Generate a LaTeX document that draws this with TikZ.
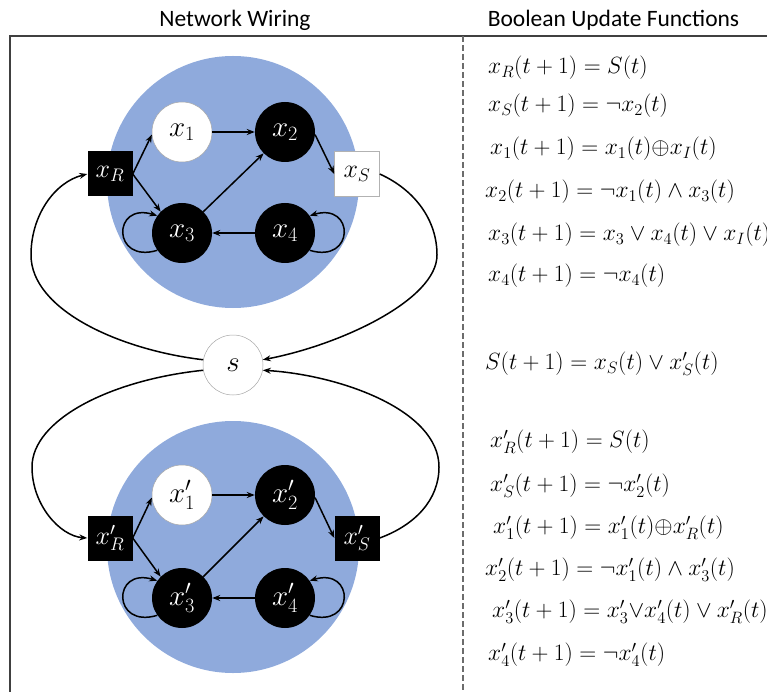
\RequirePackage{fix-cm}
\documentclass[tikz,border=0pt]{standalone}
\usepackage[no-math]{fontspec}
\newfontfamily\headfont{Carlito}
\usetikzlibrary{arrows.meta}

\definecolor{cellblue}{HTML}{8FAADC}
\definecolor{framegray}{HTML}{404040}

\tikzset{
  wire/.style={line width=1.5pt, -{Stealth[length=8pt,width=6pt]}},
  cell/.style={circle, fill=cellblue, minimum size=252pt, inner sep=0pt},
  onnode/.style={circle, fill=black, text=white, minimum size=60pt, inner sep=0pt,
    font=\fontsize{29}{31}\selectfont},
  offnode/.style={circle, fill=white, draw=gray!70, line width=0.5pt, text=black,
    minimum size=60pt, inner sep=0pt, font=\fontsize{29}{31}\selectfont},
  onport/.style={rectangle, fill=black, text=white, minimum size=45pt, inner sep=0pt,
    font=\fontsize{26}{28}\selectfont},
  offport/.style={rectangle, fill=white, draw=gray!60, line width=0.5pt, text=black,
    minimum size=45pt, inner sep=0pt, font=\fontsize{26}{28}\selectfont},
  eqn/.style={anchor=west, inner sep=0pt, font=\fontsize{23.5}{25}\selectfont},
  head/.style={anchor=base, inner sep=0pt, font=\headfont\fontsize{23.5}{26}\selectfont},
  rule/.style={line width=1.5pt, draw=framegray},
  divider/.style={line width=1.2pt, draw=gray!85!black, dash pattern=on 6pt off 3pt},
}

\begin{document}
\begin{tikzpicture}[x=1pt,y=-1pt]
\useasboundingbox (0,0) rectangle (767,692);
\clip (0,0) rectangle (767,692);

% headings and frame
\node[head] (hwire) at (235,27) {Network Wiring};
\node[head] (hfun) at (613.5,27) {Boolean Update Functions};
\coordinate (tl) at (10,36);
\coordinate (tr) at (767,36);
\coordinate (bl) at (10,692);
\coordinate (dt) at (463,36);
\coordinate (db) at (463,692);
\draw[rule] (tr) -- (tl) -- (bl);
\draw[divider] (dt) -- (db);

% cells
\node[cell] (cellA) at (233,182) {};
\node[cell] (cellB) at (233,547) {};

% upper network
\node[offnode] (x1) at (182,132) {$x_1$};
\node[onnode]  (x2) at (285,132) {$x_2$};
\node[onnode]  (x3) at (182,233) {$x_3$};
\node[onnode]  (x4) at (285,233) {$x_4$};
\node[onport]  (xR) at (110,174) {$x_R$};
\node[offport] (xS) at (357,174) {$x_S$};

% lower network
\node[offnode] (y1) at (182,495) {$x_1'$};
\node[onnode]  (y2) at (285,495) {$x_2'$};
\node[onnode]  (y3) at (182,598) {$x_3'$};
\node[onnode]  (y4) at (285,598) {$x_4'$};
\node[onport]  (yR) at (110,538) {$x_R'$};
\node[onport]  (yS) at (357,538) {$x_S'$};

% shared signal
\node[offnode] (s) at (233,365) {$s$};

% upper wiring
\draw[wire] (xR.east) -- (x1.185);
\draw[wire] (xR.east) -- (x3.135);
\draw[wire] (x1) -- (x2);
\draw[wire] (x3.45) -- (x2.225);
\draw[wire] (x2.-5) -- (xS.west);
\draw[wire] (x4) -- (x3);
\draw[wire] (x3.215) .. controls (112,264) and (112,202) .. (x3.145);
\draw[wire] (x4.-35) .. controls (355,264) and (355,202) .. (x4.35);

% lower wiring
\draw[wire] (yR.east) -- (y1.185);
\draw[wire] (yR.east) -- (y3.135);
\draw[wire] (y1) -- (y2);
\draw[wire] (y3.45) -- (y2.225);
\draw[wire] (y2.-5) -- (yS.west);
\draw[wire] (y4) -- (y3);
\draw[wire] (y3.215) .. controls (112,629) and (112,567) .. (y3.145);
\draw[wire] (y4.-35) .. controls (355,629) and (355,567) .. (y4.35);

% coupling through s
\draw[wire] (xS.east) .. controls (415,190) and (437,220) .. (437,255)
            .. controls (437,300) and (340,345) .. (s.10);
\draw[wire] (s.170) .. controls (120,350) and (31,310) .. (31,255)
            .. controls (31,215) and (55,182) .. (xR.west);
\draw[wire] (yS.east) .. controls (415,525) and (439,500) .. (439,467)
            .. controls (439,410) and (340,375) .. (s.-10);
\draw[wire] (s.190) .. controls (110,380) and (32,420) .. (32,467)
            .. controls (32,505) and (60,536) .. (yR.west);

% update functions
\node[eqn] (e1) at (488,68)  {$x_R(t+1) = S(t)$};
\node[eqn] (e2) at (488,106) {$x_S(t+1) = \neg x_2(t)$};
\node[eqn] (e3) at (490,149) {$x_1(t+1) = x_1(t){\oplus}x_I(t)$};
\node[eqn] (e4) at (485,192) {$x_2(t+1) = \neg x_1(t) \wedge x_3(t)$};
\node[eqn] (e5) at (488,235) {$x_3(t+1) = x_3 \vee x_4(t) \vee x_I(t)$};
\node[eqn] (e6) at (488,276) {$x_4(t+1) = \neg x_4(t)$};

\node[eqn] (es) at (485,364) {$S(t+1) = x_S(t) \vee x_S'(t)$};

\node[eqn] (f1) at (490,442) {$x_R'(t+1) = S(t)$};
\node[eqn] (f2) at (490,486) {$x_S'(t+1) = \neg x_2'(t)$};
\node[eqn] (f3) at (493,528) {$x_1'(t+1) = x_1'(t){\oplus}x_R'(t)$};
\node[eqn] (f4) at (485,570) {$x_2'(t+1) = \neg x_1'(t) \wedge x_3'(t)$};
\node[eqn] (f5) at (492,612) {$x_3'(t+1) = x_3'{\vee}x_4'(t) \vee x_R'(t)$};
\node[eqn] (f6) at (488,655) {$x_4'(t+1) = \neg x_4'(t)$};
\end{tikzpicture}
\end{document}
